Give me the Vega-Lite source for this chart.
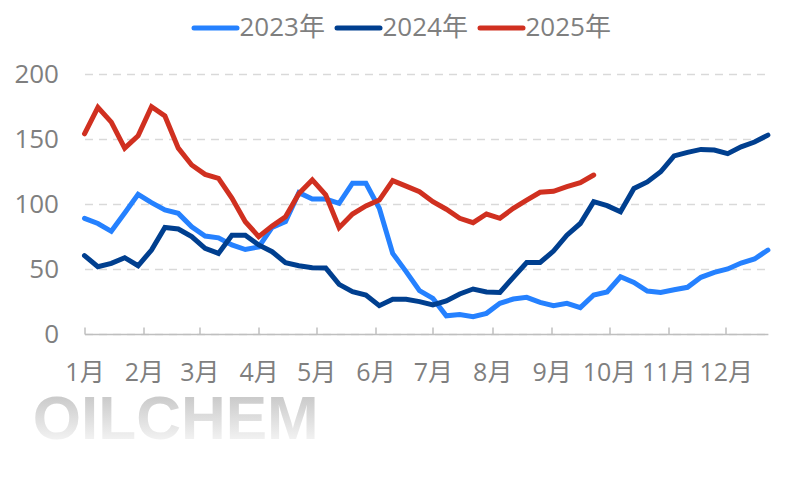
{
  "$schema": "https://vega.github.io/schema/vega-lite/v6.json",
  "width": 683.4,
  "height": 260,
  "autosize": "none",
  "padding": {"left": 84.5, "top": 74, "right": 44.1, "bottom": 146},
  "background": "white",
  "config": {
    "font": "Open Sans",
    "view": {"stroke": null},
    "axis": {"labelFont": "Open Sans, Noto Sans CJK SC", "labelColor": "#7f7f7f", "title": null}
  },
  "layer": [
    {
      "data": {"values": [{"d": "2023-12-05", "v": -81, "t": "OILCHEM"}]},
      "mark": {
        "type": "text",
        "font": "Liberation Sans",
        "fontWeight": "bold",
        "fontSize": 62,
        "align": "left",
        "baseline": "alphabetic",
        "clip": false,
        "color": {
          "gradient": "linear", "x1": 0, "y1": 0, "x2": 0, "y2": 1,
          "stops": [{"offset": 0.1, "color": "#c4c4c4"}, {"offset": 0.85, "color": "#f4f4f4"}]
        }
      },
      "encoding": {
        "x": {"field": "d", "type": "temporal", "scale": {"type": "utc"}},
        "y": {"field": "v", "type": "quantitative"},
        "text": {"field": "t"}
      }
    },
    {
      "data": {"values": [
        {"d":"2024-01-01","s":"2023年","v":89},{"d":"2024-01-08","s":"2023年","v":85},{"d":"2024-01-15","s":"2023年","v":79},{"d":"2024-01-22","s":"2023年","v":93},{"d":"2024-01-29","s":"2023年","v":107.4},{"d":"2024-02-05","s":"2023年","v":101},{"d":"2024-02-12","s":"2023年","v":95.4},{"d":"2024-02-19","s":"2023年","v":92.8},{"d":"2024-02-26","s":"2023年","v":82.5},{"d":"2024-03-04","s":"2023年","v":75.4},{"d":"2024-03-11","s":"2023年","v":74},{"d":"2024-03-18","s":"2023年","v":68.5},{"d":"2024-03-25","s":"2023年","v":65},{"d":"2024-04-01","s":"2023年","v":67},{"d":"2024-04-08","s":"2023年","v":82},{"d":"2024-04-15","s":"2023年","v":86.4},{"d":"2024-04-22","s":"2023年","v":108.7},{"d":"2024-04-29","s":"2023年","v":103.8},{"d":"2024-05-06","s":"2023年","v":103.8},{"d":"2024-05-13","s":"2023年","v":100.5},{"d":"2024-05-20","s":"2023年","v":116},{"d":"2024-05-27","s":"2023年","v":116},{"d":"2024-06-03","s":"2023年","v":96.7},{"d":"2024-06-10","s":"2023年","v":62},{"d":"2024-06-17","s":"2023年","v":48},{"d":"2024-06-24","s":"2023年","v":33.3},{"d":"2024-07-01","s":"2023年","v":27.4},{"d":"2024-07-08","s":"2023年","v":14},{"d":"2024-07-15","s":"2023年","v":14.9},{"d":"2024-07-22","s":"2023年","v":13.3},{"d":"2024-07-29","s":"2023年","v":15.9},{"d":"2024-08-05","s":"2023年","v":23.6},{"d":"2024-08-12","s":"2023年","v":26.9},{"d":"2024-08-19","s":"2023年","v":28.2},{"d":"2024-08-26","s":"2023年","v":24.3},{"d":"2024-09-02","s":"2023年","v":21.8},{"d":"2024-09-09","s":"2023年","v":23.6},{"d":"2024-09-16","s":"2023年","v":20.3},{"d":"2024-09-23","s":"2023年","v":30},{"d":"2024-09-30","s":"2023年","v":32.3},{"d":"2024-10-07","s":"2023年","v":44},{"d":"2024-10-14","s":"2023年","v":39.7},{"d":"2024-10-21","s":"2023年","v":33},{"d":"2024-10-28","s":"2023年","v":32},{"d":"2024-11-04","s":"2023年","v":34},{"d":"2024-11-11","s":"2023年","v":35.9},{"d":"2024-11-18","s":"2023年","v":43.6},{"d":"2024-11-25","s":"2023年","v":47.4},{"d":"2024-12-02","s":"2023年","v":50},{"d":"2024-12-09","s":"2023年","v":54.6},{"d":"2024-12-16","s":"2023年","v":57.7},{"d":"2024-12-23","s":"2023年","v":64.6},
        {"d":"2024-01-01","s":"2024年","v":60.3},{"d":"2024-01-08","s":"2024年","v":51.8},{"d":"2024-01-15","s":"2024年","v":54.3},{"d":"2024-01-22","s":"2024年","v":58.7},{"d":"2024-01-29","s":"2024年","v":52.5},{"d":"2024-02-05","s":"2024年","v":64.6},{"d":"2024-02-12","s":"2024年","v":82},{"d":"2024-02-19","s":"2024年","v":80.8},{"d":"2024-02-26","s":"2024年","v":74.9},{"d":"2024-03-04","s":"2024年","v":65.9},{"d":"2024-03-11","s":"2024年","v":62},{"d":"2024-03-18","s":"2024年","v":76},{"d":"2024-03-25","s":"2024年","v":76},{"d":"2024-04-01","s":"2024年","v":68.5},{"d":"2024-04-08","s":"2024年","v":63.3},{"d":"2024-04-15","s":"2024年","v":54.9},{"d":"2024-04-22","s":"2024年","v":52.5},{"d":"2024-04-29","s":"2024年","v":51},{"d":"2024-05-06","s":"2024年","v":50.8},{"d":"2024-05-13","s":"2024年","v":38.2},{"d":"2024-05-20","s":"2024年","v":32.6},{"d":"2024-05-27","s":"2024年","v":30},{"d":"2024-06-03","s":"2024年","v":21.8},{"d":"2024-06-10","s":"2024年","v":26.7},{"d":"2024-06-17","s":"2024年","v":26.7},{"d":"2024-06-24","s":"2024年","v":24.9},{"d":"2024-07-01","s":"2024年","v":22.3},{"d":"2024-07-08","s":"2024年","v":25.4},{"d":"2024-07-15","s":"2024年","v":30.8},{"d":"2024-07-22","s":"2024年","v":34.6},{"d":"2024-07-29","s":"2024年","v":32.3},{"d":"2024-08-05","s":"2024年","v":32},{"d":"2024-08-12","s":"2024年","v":43.6},{"d":"2024-08-19","s":"2024年","v":55},{"d":"2024-08-26","s":"2024年","v":55},{"d":"2024-09-02","s":"2024年","v":63.8},{"d":"2024-09-09","s":"2024年","v":76},{"d":"2024-09-16","s":"2024年","v":85},{"d":"2024-09-23","s":"2024年","v":101.8},{"d":"2024-09-30","s":"2024年","v":98.7},{"d":"2024-10-07","s":"2024年","v":94},{"d":"2024-10-14","s":"2024年","v":112},{"d":"2024-10-21","s":"2024年","v":117},{"d":"2024-10-28","s":"2024年","v":124.8},{"d":"2024-11-04","s":"2024年","v":137},{"d":"2024-11-11","s":"2024年","v":139.7},{"d":"2024-11-18","s":"2024年","v":142},{"d":"2024-11-25","s":"2024年","v":141.5},{"d":"2024-12-02","s":"2024年","v":138.7},{"d":"2024-12-09","s":"2024年","v":144},{"d":"2024-12-16","s":"2024年","v":147.7},{"d":"2024-12-23","s":"2024年","v":153},
        {"d":"2024-01-01","s":"2025年","v":154},{"d":"2024-01-08","s":"2025年","v":174.3},{"d":"2024-01-15","s":"2025年","v":163},{"d":"2024-01-22","s":"2025年","v":143},{"d":"2024-01-29","s":"2025年","v":152.5},{"d":"2024-02-05","s":"2025年","v":174.8},{"d":"2024-02-12","s":"2025年","v":167.7},{"d":"2024-02-19","s":"2025年","v":143},{"d":"2024-02-26","s":"2025年","v":130},{"d":"2024-03-04","s":"2025年","v":122.8},{"d":"2024-03-11","s":"2025年","v":119.7},{"d":"2024-03-18","s":"2025年","v":104.6},{"d":"2024-03-25","s":"2025年","v":86.4},{"d":"2024-04-01","s":"2025年","v":74.9},{"d":"2024-04-08","s":"2025年","v":83},{"d":"2024-04-15","s":"2025年","v":90.2},{"d":"2024-04-22","s":"2025年","v":108},{"d":"2024-04-29","s":"2025年","v":118.5},{"d":"2024-05-06","s":"2025年","v":107},{"d":"2024-05-13","s":"2025年","v":81.8},{"d":"2024-05-20","s":"2025年","v":92.3},{"d":"2024-05-27","s":"2025年","v":98.5},{"d":"2024-06-03","s":"2025年","v":103},{"d":"2024-06-10","s":"2025年","v":118},{"d":"2024-06-17","s":"2025年","v":113.8},{"d":"2024-06-24","s":"2025年","v":109.5},{"d":"2024-07-01","s":"2025年","v":101.8},{"d":"2024-07-08","s":"2025年","v":96},{"d":"2024-07-15","s":"2025年","v":89},{"d":"2024-07-22","s":"2025年","v":85.6},{"d":"2024-07-29","s":"2025年","v":92.3},{"d":"2024-08-05","s":"2025年","v":89},{"d":"2024-08-12","s":"2025年","v":96.7},{"d":"2024-08-19","s":"2025年","v":103},{"d":"2024-08-26","s":"2025年","v":109},{"d":"2024-09-02","s":"2025年","v":109.8},{"d":"2024-09-09","s":"2025年","v":113.3},{"d":"2024-09-16","s":"2025年","v":116.4},{"d":"2024-09-23","s":"2025年","v":122.3}
      ]},
      "mark": {"type": "line", "strokeWidth": 5, "strokeJoin": "miter", "strokeCap": "round"},
      "encoding": {
        "x": {
          "field": "d",
          "type": "temporal",
          "scale": {"type": "utc", "domain": ["2024-01-01", "2024-12-23"]},
          "axis": {
            "tickCount": "month",
            "labelExpr": "utcFormat(datum.value, '%-m') + '月'",
            "labelFontSize": 25,
            "labelFlush": false,
            "labelOverlap": false,
            "labelPadding": 33,
            "grid": false,
            "domainColor": "#bfbfbf",
            "domainWidth": 1.5,
            "tickColor": "#bfbfbf",
            "tickWidth": 1.5,
            "tickSize": -7
          }
        },
        "y": {
          "field": "v",
          "type": "quantitative",
          "scale": {"domain": [0, 200]},
          "axis": {
            "values": [0, 50, 100, 150, 200],
            "domain": false,
            "ticks": false,
            "labelFontSize": 26,
            "labelPadding": 26,
            "gridColor": "#d9d9d9",
            "gridDash": [8, 6],
            "gridWidth": 1.5
          }
        },
        "color": {
          "field": "s",
          "type": "nominal",
          "scale": {"domain": ["2023年", "2024年", "2025年"], "range": ["#2581ff", "#003f8f", "#d03020"]},
          "legend": {
            "title": null,
            "orient": "none",
            "legendX": 107,
            "legendY": -70,
            "direction": "horizontal",
            "columns": 3,
            "symbolType": "stroke",
            "symbolSize": 1849,
            "symbolStrokeWidth": 5,
            "labelFont": "Open Sans, Noto Sans CJK SC",
            "labelFontSize": 26,
            "labelColor": "#7f7f7f",
            "labelOffset": 0,
            "columnPadding": 1,
            "encode": {"symbols": {"update": {"strokeCap": {"value": "round"}}}}
          }
        }
      }
    }
  ]
}
